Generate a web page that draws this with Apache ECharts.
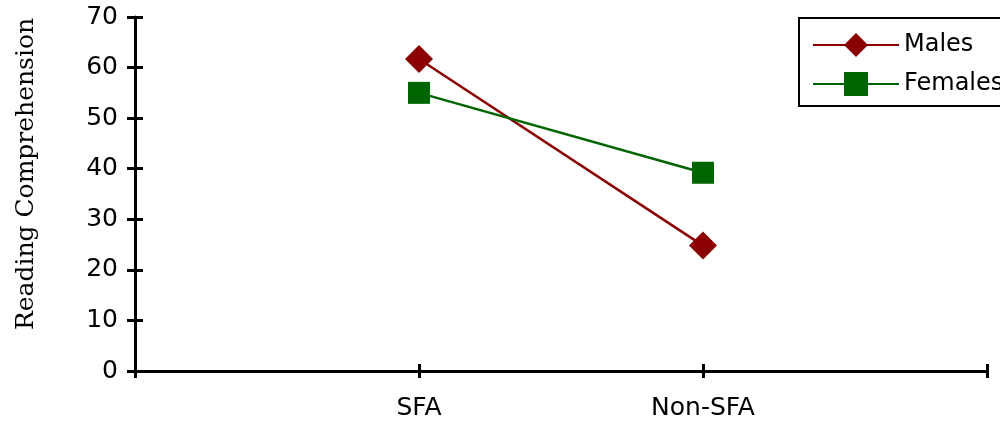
<!DOCTYPE html>
<html>
<head>
<meta charset="utf-8">
<script src="https://cdn.jsdelivr.net/npm/echarts@6/dist/echarts.min.js"></script>
<style>html,body{margin:0;padding:0;background:#fff;}#c{width:1000px;height:424px;}</style>
</head>
<body>
<div id="c"></div>
<script>
var categories = ['', 'SFA', 'Non-SFA', ''];
var males = [null, 61.7, 24.8, null];
var females = [null, 55.0, 39.2, null];
var yTicks = {min: 0, max: 70, interval: 10};

var chart = echarts.init(document.getElementById('c'));
var sans = 'DejaVu Sans';
chart.setOption({
  animation: false,
  grid: {left: 135, right: 13, top: 17, bottom: 53},
  legend: {
    orient: 'vertical', left: 799, top: 18,
    padding: [15, 30, 10, 13],
    borderColor: '#000', borderWidth: 2,
    itemWidth: 86, itemHeight: 30, itemGap: 15,
    textStyle: {fontFamily: sans, fontSize: 24, color: '#000'},
    data: ['Males', 'Females']
  },
  xAxis: [{
    type: 'category', data: categories, boundaryGap: false,
    axisLine: {show: true, lineStyle: {color: '#000', width: 3}},
    axisTick: {show: true, interval: 0, length: 7, lineStyle: {color: '#000', width: 3}},
    axisLabel: {interval: 0, margin: 25, fontFamily: sans, fontSize: 25, color: '#000'},
    splitLine: {show: false}
  }, {
    type: 'category', data: categories, boundaryGap: false, position: 'bottom',
    axisLine: {show: false},
    axisTick: {show: true, inside: true, interval: 0, length: 7, lineStyle: {color: '#000', width: 3}},
    axisLabel: {show: false},
    splitLine: {show: false}
  }],
  yAxis: [{
    type: 'value', min: yTicks.min, max: yTicks.max, interval: yTicks.interval,
    name: 'Reading Comprehension', nameLocation: 'middle', nameRotate: 90, nameGap: 96,
    nameTextStyle: {fontFamily: 'DejaVu Serif', fontSize: 25, color: '#000', padding: [0, 0, 0, 40]},
    axisLine: {show: true, lineStyle: {color: '#000', width: 3}},
    axisTick: {show: true, length: 8, lineStyle: {color: '#000', width: 3}},
    axisLabel: {margin: 17, fontFamily: sans, fontSize: 25, color: '#000'},
    splitLine: {show: false}
  }, {
    type: 'value', min: yTicks.min, max: yTicks.max, interval: yTicks.interval, position: 'left',
    axisLine: {show: false},
    axisTick: {show: true, inside: true, length: 8, lineStyle: {color: '#000', width: 3}},
    axisLabel: {show: false},
    splitLine: {show: false}
  }],
  series: [{
    name: 'Males', type: 'line', data: males,
    symbol: 'diamond', symbolSize: 28,
    itemStyle: {color: '#8b0000'},
    lineStyle: {color: '#8b0000', width: 2.5}
  }, {
    name: 'Females', type: 'line', data: females,
    symbol: 'rect', symbolSize: 22,
    itemStyle: {color: '#006400'},
    lineStyle: {color: '#006400', width: 2.5}
  }]
});
</script>
</body>
</html>
